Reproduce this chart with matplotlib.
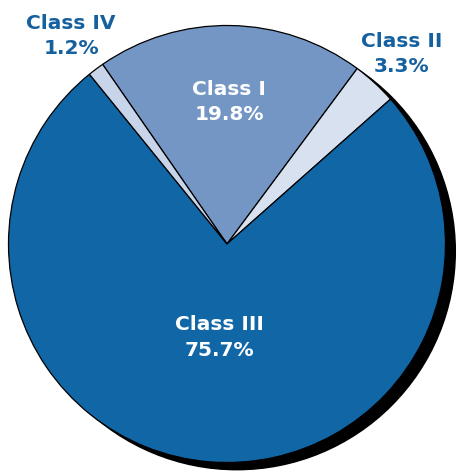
import matplotlib
matplotlib.use("Agg")
import matplotlib.pyplot as plt
from matplotlib.patches import Circle
import numpy as np

labels = ["Class I", "Class II", "Class III", "Class IV"]
values = [19.8, 3.3, 75.7, 1.2]
colors = ["#7496c5", "#d7e1f0", "#1166a6", "#c8d4ea"]
label_colors = ["white", "#15609f", "white", "#15609f"]
label_radius = [0.65, 1.18, 0.43, 1.19]

R = 218.5
XL = (-227 / R, (458 - 227) / R)
YL = (-(474 - 244) / R, 244 / R)

fig = plt.figure(figsize=(4.58, 4.74), dpi=100)
ax = fig.add_axes([0, 0, 1, 1])
ax.axis("off")

# shadow
ax.add_patch(Circle((0.045, -0.033), 1.0, color="black", zorder=0))

wedges, _ = ax.pie(values, colors=colors, startangle=124.7, counterclock=False,
                   radius=1.0, wedgeprops=dict(edgecolor="black", linewidth=0.9),
                   frame=False)
ax.set_xlim(*XL)
ax.set_ylim(*YL)
ax.set_aspect("auto")

for w, lab, v, c, r in zip(wedges, labels, values, label_colors, label_radius):
    ang = np.deg2rad((w.theta1 + w.theta2) / 2)
    ax.text(r * np.cos(ang), r * np.sin(ang), f"{lab}\n{v:.1f}%",
            ha="center", va="center", color=c, fontsize=14.5, fontweight="bold",
            linespacing=1.45, family="DejaVu Sans")

fig.savefig("out.png", dpi=100)
